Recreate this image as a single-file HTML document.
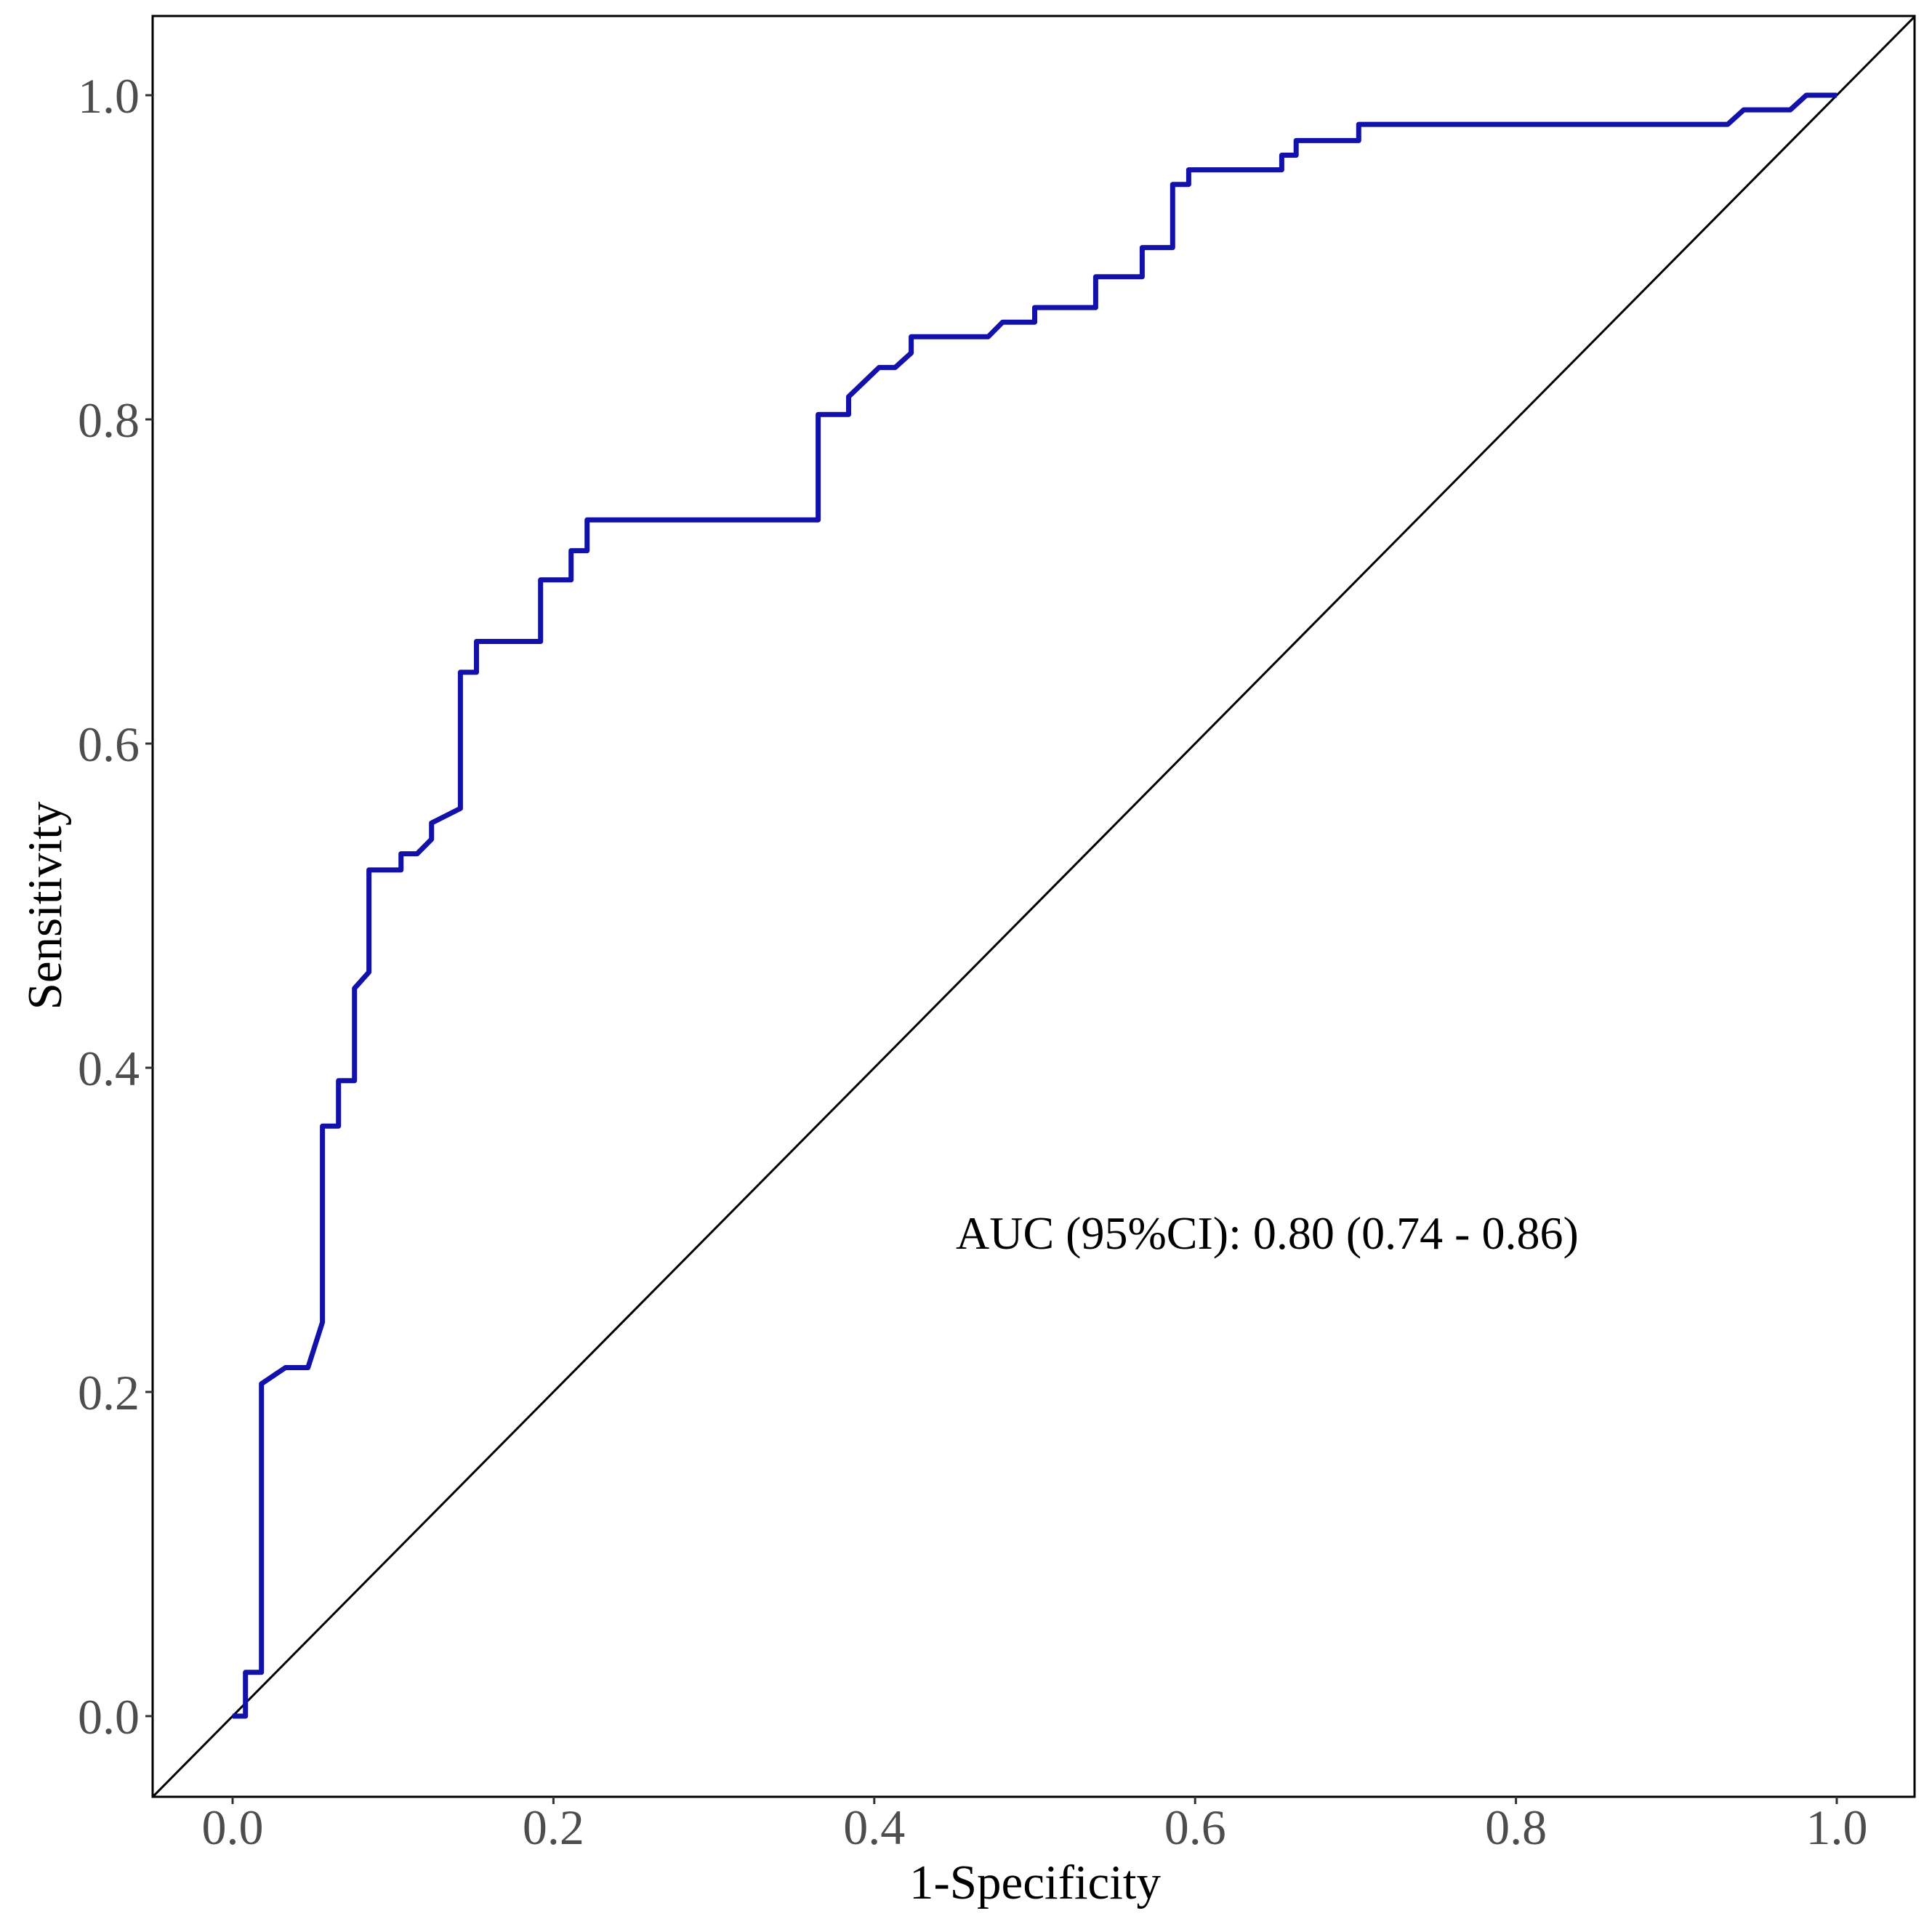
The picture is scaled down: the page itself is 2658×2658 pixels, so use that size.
<!DOCTYPE html>
<html><head><meta charset="utf-8"><style>
html,body{margin:0;padding:0;background:#fff;}
svg{display:block;}
text{font-family:"Liberation Serif",serif;}
</style></head><body>
<svg id="chart" width="2658" height="2658" viewBox="0 0 2658 2658" xmlns="http://www.w3.org/2000/svg">
<rect x="0" y="0" width="2658" height="2658" fill="#fff"/>
<g id="plot"></g>
</svg>
<script>
const fpr=[0,0.008,0.008,0.018,0.018,0.033,0.047,0.056,0.056,0.066,0.066,0.076,0.076,0.085,0.085,0.105,0.105,0.115,0.124,0.124,0.142,0.142,0.152,0.152,0.192,0.192,0.211,0.211,0.221,0.221,0.365,0.365,0.384,0.384,0.403,0.413,0.423,0.423,0.471,0.480,0.500,0.500,0.538,0.538,0.567,0.567,0.586,0.586,0.596,0.596,0.654,0.654,0.663,0.663,0.702,0.702,0.932,0.942,0.971,0.981,1.0];
const tpr=[0,0,0.027,0.027,0.205,0.215,0.215,0.243,0.364,0.364,0.392,0.392,0.449,0.459,0.522,0.522,0.532,0.532,0.541,0.551,0.560,0.644,0.644,0.663,0.663,0.701,0.701,0.719,0.719,0.738,0.738,0.803,0.803,0.814,0.832,0.832,0.841,0.851,0.851,0.860,0.860,0.869,0.869,0.888,0.888,0.906,0.906,0.945,0.945,0.954,0.954,0.963,0.963,0.972,0.972,0.982,0.982,0.991,0.991,1.0,1.0];
const xTicks=[0,0.2,0.4,0.6,0.8,1.0];
const yTicks=[0,0.2,0.4,0.6,0.8,1.0];
const xTickLabels=["0.0","0.2","0.4","0.6","0.8","1.0"];
const yTickLabels=["0.0","0.2","0.4","0.6","0.8","1.0"];
const aucLabel="AUC (95%CI): 0.80 (0.74 - 0.86)";

const NS="http://www.w3.org/2000/svg";
const g=document.getElementById('plot');
const L=210,R=2634,T=22,B=2472;
function sx(v){return 320+v*2207;}
function sy(v){return 2361-v*2230;}
function mk(tag,attrs){const e=document.createElementNS(NS,tag);for(const k in attrs)e.setAttribute(k,attrs[k]);g.appendChild(e);return e;}

const dv0=(L-320)/2207, dv1=(R-320)/2207;
let d=mk('line',{x1:sx(dv0),y1:sy(dv0),x2:sx(dv1),y2:sy(dv1),stroke:'#000','stroke-width':3});



let pts=fpr.map((f,i)=>sx(f).toFixed(1)+','+sy(tpr[i]).toFixed(1)).join(' ');
let roc=mk('polyline',{points:pts,fill:'none',stroke:'#1212aa','stroke-width':7,'stroke-linejoin':'round'});



let fr=mk('rect',{x:L,y:T,width:R-L,height:B-T,fill:'none',stroke:'#000','stroke-width':3});



xTicks.forEach((v,i)=>{
  let t=mk('line',{x1:sx(v),y1:B,x2:sx(v),y2:B+10,stroke:'#333','stroke-width':3});
  
  
  let l=mk('text',{x:sx(v),y:2537,'text-anchor':'middle','font-size':68,fill:'#4d4d4d'});
  l.textContent=xTickLabels[i];
  
  
});
yTicks.forEach((v,i)=>{
  let t=mk('line',{x1:L-10,y1:sy(v),x2:L,y2:sy(v),stroke:'#333','stroke-width':3});
  
  
  let l=mk('text',{x:192,y:sy(v)+24,'text-anchor':'end','font-size':68,fill:'#4d4d4d'});
  l.textContent=yTickLabels[i];
  
  
});
let xt=mk('text',{x:1424,y:2612,'text-anchor':'middle','font-size':67,fill:'#000'});
xt.textContent='1-Specificity';


let yt=mk('text',{x:0,y:0,'text-anchor':'middle','font-size':67,fill:'#000',transform:'translate(84,1246) rotate(-90)'});
yt.textContent='Sensitivity';


let at=mk('text',{x:1315,y:1718,'font-size':64,fill:'#000'});
at.textContent=aucLabel;


</script>
</body></html>
